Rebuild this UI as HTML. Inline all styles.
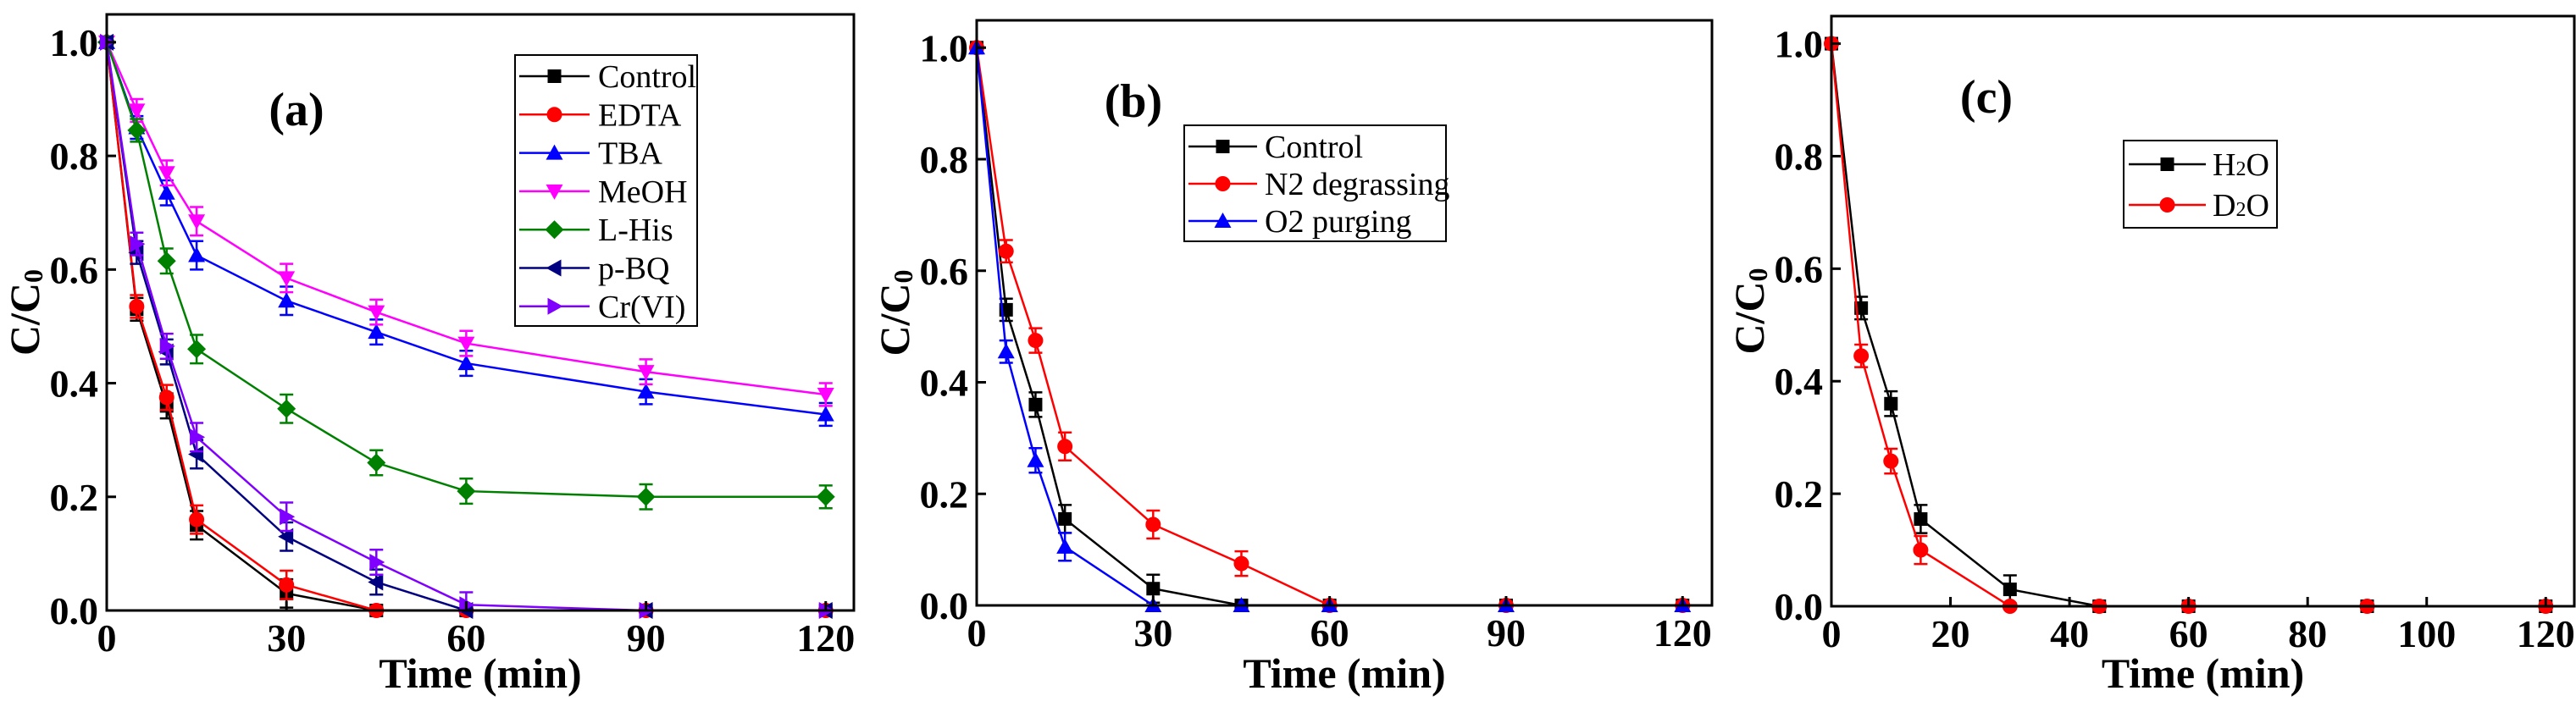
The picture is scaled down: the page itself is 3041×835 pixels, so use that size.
<!DOCTYPE html>
<html><head><meta charset="utf-8">
<style>
html,body{margin:0;padding:0;background:#fff;}
svg{display:block;font-family:"Liberation Serif",serif;}
svg text, svg tspan{font-family:"Liberation Serif",serif !important;}
</style></head>
<body>
<svg id="fig" width="3041" height="835" viewBox="0 0 3041 835" xmlns="http://www.w3.org/2000/svg" font-family="Liberation Serif, serif"></svg>
<script>
// ---- data ----
const times = [0, 5, 10, 15, 30, 45, 60, 90, 120];
const aControl = [1, 0.53, 0.36, 0.15, 0.03, 0, 0, 0, 0];
const aEDTA = [1, 0.535, 0.375, 0.16, 0.045, 0, 0, 0, 0];
const aTBA = [1, 0.85, 0.735, 0.625, 0.545, 0.49, 0.435, 0.385, 0.345];
const aMeOH = [1, 0.88, 0.77, 0.685, 0.585, 0.525, 0.47, 0.42, 0.38];
const aLHis = [1, 0.845, 0.615, 0.46, 0.355, 0.26, 0.21, 0.2, 0.2];
const aPBQ = [1, 0.63, 0.455, 0.275, 0.13, 0.05, 0, 0, 0];
const aCr = [1, 0.645, 0.465, 0.305, 0.165, 0.085, 0.01, 0, 0];
const bControl = [1, 0.53, 0.36, 0.155, 0.03, 0, 0, 0, 0];
const bN2 = [1, 0.635, 0.475, 0.285, 0.145, 0.075, 0, 0, 0];
const bO2 = [1, 0.455, 0.26, 0.105, 0, 0, 0, 0, 0];
const cH2O = [1, 0.53, 0.36, 0.155, 0.03, 0, 0, 0, 0];
const cD2O = [1, 0.445, 0.258, 0.1, 0, 0, 0, 0, 0];
const errBar = [0, 0.02, 0.022, 0.025, 0.025, 0.022, 0.022, 0.022, 0.02];
const yTicks = [0, 0.2, 0.4, 0.6, 0.8, 1.0];
const yTickLabels = ["0.0", "0.2", "0.4", "0.6", "0.8", "1.0"];
const xTicksAB = [0, 30, 60, 90, 120];
const xTicksC = [0, 20, 40, 60, 80, 100, 120];

const NS = "http://www.w3.org/2000/svg";
const FF = "Liberation Serif, serif";
const svg = document.getElementById("fig");
function mk(tag, attrs, parent, text) {
  const e = document.createElementNS(NS, tag);
  for (const k in attrs) e.setAttribute(k, attrs[k]);
  if (tag === "text") e.setAttribute("font-family", FF);
  if (text !== undefined) e.textContent = text;
  (parent || svg).appendChild(e);
  return e;
}
function marker(g, shape, cx, cy, col) {
  const s = 9;
  let e;
  if (shape === "sq") e = mk("rect", {x: cx - s + 1, y: cy - s + 1, width: 2 * s - 2, height: 2 * s - 2, fill: col}, g);
  else if (shape === "ci") e = mk("circle", {cx: cx, cy: cy, r: s, fill: col}, g);
  else if (shape === "up") e = mk("polygon", {points: `${cx},${cy - s - 1} ${cx + s + 1},${cy + s - 1} ${cx - s - 1},${cy + s - 1}`, fill: col}, g);
  else if (shape === "dn") e = mk("polygon", {points: `${cx},${cy + s + 1} ${cx + s + 1},${cy - s + 1} ${cx - s - 1},${cy - s + 1}`, fill: col}, g);
  else if (shape === "di") e = mk("polygon", {points: `${cx},${cy - s - 2} ${cx + s + 2},${cy} ${cx},${cy + s + 2} ${cx - s - 2},${cy}`, fill: col}, g);
  else if (shape === "le") e = mk("polygon", {points: `${cx - s - 1},${cy} ${cx + s - 1},${cy - s - 1} ${cx + s - 1},${cy + s + 1}`, fill: col}, g);
  else if (shape === "ri") e = mk("polygon", {points: `${cx + s + 1},${cy} ${cx - s + 1},${cy - s - 1} ${cx - s + 1},${cy + s + 1}`, fill: col}, g);
  
  
  return e;
}

function panel(cfg) {
  const g = mk("g", {});
  
  
  const X = v => cfg.x0 + (v - 0) / cfg.xmax * (cfg.x1 - cfg.x0);
  const Y = v => cfg.y0 - v / cfg.ymax * (cfg.y0 - cfg.y1);
  cfg.series.forEach(s => {
    const sg = mk("g", {}, g);
    
    
    const pts = times.map((t, i) => X(t) + "," + Y(s.vals[i])).join(" ");
    const pl = mk("polyline", {points: pts, fill: "none", stroke: s.col, "stroke-width": 2.5}, sg);
    
    
    times.forEach((t, i) => {
      const v = s.vals[i], er = v > 0.001 ? errBar[i] : 0;
      if (er > 0) {
        const cx = X(t);
        mk("line", {x1: cx, x2: cx, y1: Y(v + er), y2: Y(Math.max(v - er, 0)), stroke: s.col, "stroke-width": 2.5}, sg);
        mk("line", {x1: cx - 8, x2: cx + 8, y1: Y(v + er), y2: Y(v + er), stroke: s.col, "stroke-width": 2.5}, sg);
        if (v - er > 0) mk("line", {x1: cx - 8, x2: cx + 8, y1: Y(v - er), y2: Y(v - er), stroke: s.col, "stroke-width": 2.5}, sg);
      }
      marker(sg, s.shape, X(t), Y(v), s.col);
    });
  });
  const fr = mk("rect", {x: cfg.x0, y: cfg.y1, width: cfg.x1 - cfg.x0, height: cfg.y0 - cfg.y1, fill: "none", stroke: "#000", "stroke-width": 3}, g);
  
  
  yTicks.forEach((v, i) => {
    mk("line", {x1: cfg.x0, x2: cfg.x0 + 11, y1: Y(v), y2: Y(v), stroke: "#000", "stroke-width": 3}, g);
    const t = mk("text", {x: cfg.x0 - 10, y: Y(v) + 16, "text-anchor": "end", "font-size": 46, "font-weight": "bold"}, g, yTickLabels[i]);
    
    
  });
  cfg.xticks.forEach(v => {
    mk("line", {x1: X(v), x2: X(v), y1: cfg.y0, y2: cfg.y0 - 11, stroke: "#000", "stroke-width": 3}, g);
    const t = mk("text", {x: X(v), y: cfg.y0 + 48, "text-anchor": "middle", "font-size": 46, "font-weight": "bold"}, g, String(v));
    
    
  });
  const xt = mk("text", {x: (cfg.x0 + cfg.x1) / 2, y: 812, "text-anchor": "middle", "font-size": 50, "font-weight": "bold"}, g, "Time (min)");
  
  
  const yt = mk("text", {transform: `translate(${cfg.x0 - 80},${(cfg.y0 + cfg.y1) / 2}) rotate(-90)`, "text-anchor": "middle", "font-size": 50, "font-weight": "bold"}, g);
  
  
  mk("tspan", {}, yt, "C/C");
  mk("tspan", {"font-size": 32, dy: 4}, yt, "0");
  const pl = mk("text", {x: cfg.lx, y: cfg.ly, "text-anchor": "middle", "font-size": 56, "font-weight": "bold"}, g, cfg.plabel);
  
  
  const L = cfg.leg;
  const lg = mk("g", {}, g);
  
  
  mk("rect", {x: L.x, y: L.y, width: L.w, height: L.h, fill: "#fff", stroke: "#000", "stroke-width": 2}, lg);
  cfg.series.forEach((s, i) => {
    const yy = L.ey + i * L.dy;
    const eg = mk("g", {}, lg);
    
    
    mk("line", {x1: L.lx1, x2: L.lx2, y1: yy, y2: yy, stroke: s.col, "stroke-width": 2.5}, eg);
    marker(eg, s.shape, (L.lx1 + L.lx2) / 2, yy, s.col);
    const t = mk("text", {x: L.tx, y: yy + 13, "font-size": 38}, eg);
    if (s.sub) {
      mk("tspan", {}, t, s.label[0]);
      mk("tspan", {"font-size": 24}, t, "2");
      mk("tspan", {}, t, "O");
    } else t.textContent = s.label;
  });
}

panel({name: "panel-a", x0: 126, x1: 1008, y0: 721, y1: 17, xmax: 124.7, ymax: 1.049, xticks: xTicksAB,
  plabel: "(a)", lx: 350, ly: 148,
  leg: {x: 608, y: 65, w: 215, h: 320, ey: 90, dy: 45.3, lx1: 613, lx2: 696, tx: 706},
  series: [
    {label: "Control", vals: aControl, col: "#000000", shape: "sq"},
    {label: "EDTA", vals: aEDTA, col: "#ff0000", shape: "ci"},
    {label: "TBA", vals: aTBA, col: "#0000ff", shape: "up"},
    {label: "MeOH", vals: aMeOH, col: "#ff00ff", shape: "dn"},
    {label: "L-His", vals: aLHis, col: "#008000", shape: "di"},
    {label: "p-BQ", vals: aPBQ, col: "#000080", shape: "le"},
    {label: "Cr(VI)", vals: aCr, col: "#8000ff", shape: "ri"}
  ]});
panel({name: "panel-b", x0: 1153, x1: 2021, y0: 715, y1: 24, xmax: 125, ymax: 1.049, xticks: xTicksAB,
  plabel: "(b)", lx: 1338, ly: 138,
  leg: {x: 1398, y: 148, w: 309, h: 137, ey: 173, dy: 44, lx1: 1403, lx2: 1484, tx: 1493},
  series: [
    {label: "Control", vals: bControl, col: "#000000", shape: "sq"},
    {label: "N2 degrassing", vals: bN2, col: "#ff0000", shape: "ci"},
    {label: "O2 purging", vals: bO2, col: "#0000ff", shape: "up"}
  ]});
panel({name: "panel-c", x0: 2162, x1: 3039, y0: 716, y1: 19, xmax: 124.8, ymax: 1.049, xticks: xTicksC,
  plabel: "(c)", lx: 2345, ly: 133,
  leg: {x: 2507, y: 166, w: 181, h: 103, ey: 194, dy: 48, lx1: 2513, lx2: 2604, tx: 2612},
  series: [
    {label: "H2O", vals: cH2O, col: "#000000", shape: "sq", sub: true},
    {label: "D2O", vals: cD2O, col: "#ff0000", shape: "ci", sub: true}
  ]});
</script>
</body></html>
